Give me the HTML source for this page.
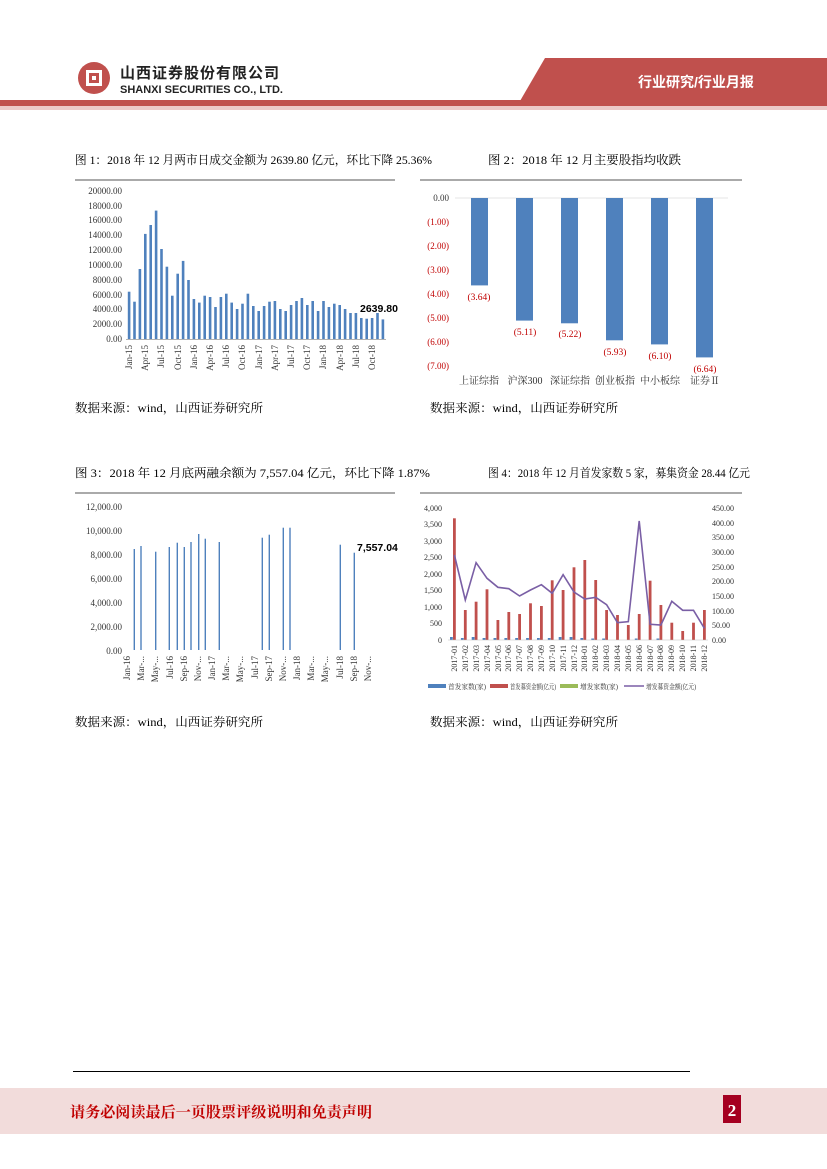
<!DOCTYPE html>
<html><head><meta charset="utf-8"><style>
body{margin:0;background:#fff}
svg{display:block}
text{font-family:"Liberation Serif","Noto Serif CJK SC","Noto Sans CJK SC",serif}
.s{font-family:"Liberation Sans","Noto Sans CJK SC",sans-serif}
</style></head><body>
<svg width="827" height="1169" viewBox="0 0 827 1169" xmlns="http://www.w3.org/2000/svg">
<!-- header -->
<polygon points="545,58 827,58 827,101 520,101" fill="#c0504d"/>
<rect x="0" y="100" width="827" height="6" fill="#c0504d"/>
<rect x="0" y="106" width="827" height="4" fill="#ecc9c8"/>
<text x="696" y="87" fill="#fff" font-size="14" font-weight="bold" text-anchor="middle" class="s">行业研究/行业月报</text>
<circle cx="94" cy="78" r="16" fill="#c0504d"/>
<rect x="86" y="70" width="16" height="16" fill="#fff"/>
<rect x="89" y="73" width="10" height="10" fill="#c0504d"/>
<rect x="92" y="76" width="4" height="4" fill="#fff"/>
<text x="120" y="78" font-size="15" font-weight="bold" fill="#222" class="s" letter-spacing="1">山西证券股份有限公司</text>
<text x="120" y="93" font-size="11" font-weight="bold" fill="#222" class="s">SHANXI SECURITIES CO., LTD.</text>

<!-- captions -->
<text x="75" y="164" font-size="12" textLength="357" lengthAdjust="spacingAndGlyphs">图 1：2018 年 12 月两市日成交金额为 2639.80 亿元，环比下降 25.36%</text>
<text x="488" y="164" font-size="12" textLength="193" lengthAdjust="spacingAndGlyphs">图 2：2018 年 12 月主要股指均收跌</text>

<!-- chart 1 -->
<line x1="75" y1="180" x2="395" y2="180" stroke="#555" stroke-width="1"/>
<g font-size="9" text-anchor="end" class="s" fill="#333">
<text x="122" y="194">20000.00</text><text x="122" y="209">18000.00</text><text x="122" y="223">16000.00</text><text x="122" y="238">14000.00</text><text x="122" y="253">12000.00</text><text x="122" y="268">10000.00</text><text x="122" y="283">8000.00</text><text x="122" y="298">6000.00</text><text x="122" y="312">4000.00</text><text x="122" y="327">2000.00</text><text x="122" y="342">0.00</text>
</g>
<line x1="126" y1="339.5" x2="386" y2="339.5" stroke="#999" stroke-width="0.7"/>
<g fill="#4f81bd">
<rect x="127.8" y="291.7" width="2.6" height="47.3"/><rect x="133.2" y="301.7" width="2.6" height="37.3"/><rect x="138.6" y="269" width="2.6" height="70"/><rect x="144" y="233.9" width="2.6" height="105.1"/><rect x="149.4" y="225" width="2.6" height="114"/><rect x="154.8" y="210.6" width="2.6" height="128.4"/><rect x="160.2" y="249" width="2.6" height="90"/><rect x="165.6" y="266.7" width="2.6" height="72.3"/><rect x="171" y="295.7" width="2.6" height="43.3"/><rect x="176.4" y="273.7" width="2.6" height="65.3"/><rect x="181.8" y="260.9" width="2.6" height="78.1"/><rect x="187.2" y="280" width="2.6" height="59"/>
<rect x="192.6" y="299" width="2.6" height="40"/><rect x="198" y="302.6" width="2.6" height="36.4"/><rect x="203.4" y="295.7" width="2.6" height="43.3"/><rect x="208.8" y="297" width="2.6" height="42"/><rect x="214.2" y="307" width="2.6" height="32"/><rect x="219.6" y="297" width="2.6" height="42"/><rect x="225" y="293.7" width="2.6" height="45.3"/><rect x="230.4" y="302.6" width="2.6" height="36.4"/><rect x="235.8" y="309" width="2.6" height="30"/><rect x="241.2" y="303.7" width="2.6" height="35.3"/><rect x="246.6" y="293.7" width="2.6" height="45.3"/><rect x="252" y="306" width="2.6" height="33"/>
<rect x="257.4" y="311" width="2.6" height="28"/><rect x="262.8" y="306" width="2.6" height="33"/><rect x="268.2" y="301.7" width="2.6" height="37.3"/><rect x="273.6" y="301" width="2.6" height="38"/><rect x="279" y="309" width="2.6" height="30"/><rect x="284.4" y="311" width="2.6" height="28"/><rect x="289.8" y="305" width="2.6" height="34"/><rect x="295.2" y="301" width="2.6" height="38"/><rect x="300.6" y="298" width="2.6" height="41"/><rect x="306" y="305" width="2.6" height="34"/><rect x="311.4" y="301" width="2.6" height="38"/><rect x="316.8" y="311" width="2.6" height="28"/>
<rect x="322.2" y="301" width="2.6" height="38"/><rect x="327.6" y="307" width="2.6" height="32"/><rect x="333" y="303.7" width="2.6" height="35.3"/><rect x="338.4" y="305" width="2.6" height="34"/><rect x="343.8" y="309" width="2.6" height="30"/><rect x="349.2" y="313" width="2.6" height="26"/><rect x="354.6" y="313" width="2.6" height="26"/><rect x="360" y="318" width="2.6" height="21"/><rect x="365.4" y="318.7" width="2.6" height="20.3"/><rect x="370.8" y="318" width="2.6" height="21"/><rect x="376.2" y="313" width="2.6" height="26"/><rect x="381.6" y="319.4" width="2.6" height="19.6"/>
</g>
<text x="360" y="312" font-size="10.5" font-weight="bold" class="s">2639.80</text>
<g font-size="9" class="s" fill="#333" text-anchor="end">
<text transform="translate(132,345) rotate(-90)">Jan-15</text><text transform="translate(148,345) rotate(-90)">Apr-15</text><text transform="translate(164,345) rotate(-90)">Jul-15</text><text transform="translate(181,345) rotate(-90)">Oct-15</text>
<text transform="translate(197,345) rotate(-90)">Jan-16</text><text transform="translate(213,345) rotate(-90)">Apr-16</text><text transform="translate(229,345) rotate(-90)">Jul-16</text><text transform="translate(245,345) rotate(-90)">Oct-16</text>
<text transform="translate(262,345) rotate(-90)">Jan-17</text><text transform="translate(278,345) rotate(-90)">Apr-17</text><text transform="translate(294,345) rotate(-90)">Jul-17</text><text transform="translate(310,345) rotate(-90)">Oct-17</text>
<text transform="translate(326,345) rotate(-90)">Jan-18</text><text transform="translate(343,345) rotate(-90)">Apr-18</text><text transform="translate(359,345) rotate(-90)">Jul-18</text><text transform="translate(375,345) rotate(-90)">Oct-18</text>
</g>

<!-- chart 2 -->
<line x1="420" y1="180" x2="742" y2="180" stroke="#555" stroke-width="1"/>
<line x1="455" y1="198" x2="728" y2="198" stroke="#ddd" stroke-width="0.8"/>
<g font-size="9" text-anchor="end">
<text x="449" y="201" fill="#333">0.00</text><text x="449" y="225" fill="#c00000">(1.00)</text><text x="449" y="249" fill="#c00000">(2.00)</text><text x="449" y="273" fill="#c00000">(3.00)</text><text x="449" y="297" fill="#c00000">(4.00)</text><text x="449" y="321" fill="#c00000">(5.00)</text><text x="449" y="345" fill="#c00000">(6.00)</text><text x="449" y="369" fill="#c00000">(7.00)</text>
</g>
<g fill="#4f81bd">
<rect x="471" y="198" width="17" height="87.4"/><rect x="516" y="198" width="17" height="122.6"/><rect x="561" y="198" width="17" height="125.3"/><rect x="606" y="198" width="17" height="142.3"/><rect x="651" y="198" width="17" height="146.4"/><rect x="696" y="198" width="17" height="159.4"/>
</g>
<g font-size="9.5" fill="#c00000" text-anchor="middle">
<text x="479" y="300">(3.64)</text><text x="525" y="335">(5.11)</text><text x="570" y="337">(5.22)</text><text x="615" y="355">(5.93)</text><text x="660" y="359">(6.10)</text><text x="705" y="372">(6.64)</text>
</g>
<g font-size="10" fill="#333" text-anchor="middle">
<text x="479" y="384">上证综指</text><text x="525" y="384">沪深300</text><text x="570" y="384">深证综指</text><text x="615" y="384">创业板指</text><text x="660" y="384">中小板综</text><text x="705" y="384">证券Ⅱ</text>
</g>

<text x="75" y="412" font-size="12" textLength="188" lengthAdjust="spacingAndGlyphs">数据来源：wind，山西证券研究所</text>
<text x="430" y="412" font-size="12" textLength="188" lengthAdjust="spacingAndGlyphs">数据来源：wind，山西证券研究所</text>

<!-- captions 3/4 -->
<text x="75" y="477" font-size="12" textLength="355" lengthAdjust="spacingAndGlyphs">图 3：2018 年 12 月底两融余额为 7,557.04 亿元，环比下降 1.87%</text>
<text x="488" y="477" font-size="12" textLength="262" lengthAdjust="spacingAndGlyphs">图 4：2018 年 12 月首发家数 5 家，募集资金 28.44 亿元</text>

<!-- chart 3 -->
<line x1="75" y1="493" x2="395" y2="493" stroke="#555" stroke-width="1"/>
<g font-size="9" text-anchor="end" class="s" fill="#333">
<text x="122" y="510">12,000.00</text><text x="122" y="534">10,000.00</text><text x="122" y="558">8,000.00</text><text x="122" y="582">6,000.00</text><text x="122" y="606">4,000.00</text><text x="122" y="630">2,000.00</text><text x="122" y="654">0.00</text>
</g>
<g stroke="#4f81bd" stroke-width="1.4">
<line x1="134.3" y1="549" x2="134.3" y2="650"/><line x1="141" y1="546" x2="141" y2="650"/><line x1="155.7" y1="551.7" x2="155.7" y2="650"/><line x1="169.3" y1="547" x2="169.3" y2="650"/><line x1="177.3" y1="542.7" x2="177.3" y2="650"/><line x1="184.3" y1="547" x2="184.3" y2="650"/><line x1="191" y1="542" x2="191" y2="650"/><line x1="198.7" y1="534" x2="198.7" y2="650"/><line x1="205.3" y1="538.7" x2="205.3" y2="650"/><line x1="219.3" y1="542" x2="219.3" y2="650"/><line x1="262.3" y1="537.7" x2="262.3" y2="650"/><line x1="269.3" y1="534.7" x2="269.3" y2="650"/><line x1="283.3" y1="527.7" x2="283.3" y2="650"/><line x1="290" y1="527.7" x2="290" y2="650"/><line x1="340.3" y1="544.7" x2="340.3" y2="650"/><line x1="354.3" y1="552.7" x2="354.3" y2="650"/>
</g>
<text x="357" y="551" font-size="10.5" font-weight="bold" class="s">7,557.04</text>
<g font-size="9" class="s" fill="#333" text-anchor="end">
<text transform="translate(130,656) rotate(-90)">Jan-16</text><text transform="translate(144,656) rotate(-90)">Mar-...</text><text transform="translate(158,656) rotate(-90)">May-...</text><text transform="translate(173,656) rotate(-90)">Jul-16</text><text transform="translate(187,656) rotate(-90)">Sep-16</text><text transform="translate(201,656) rotate(-90)">Nov-...</text><text transform="translate(215,656) rotate(-90)">Jan-17</text><text transform="translate(229,656) rotate(-90)">Mar-...</text><text transform="translate(243,656) rotate(-90)">May-...</text><text transform="translate(258,656) rotate(-90)">Jul-17</text><text transform="translate(272,656) rotate(-90)">Sep-17</text><text transform="translate(286,656) rotate(-90)">Nov-...</text><text transform="translate(300,656) rotate(-90)">Jan-18</text><text transform="translate(314,656) rotate(-90)">Mar-...</text><text transform="translate(328,656) rotate(-90)">May-...</text><text transform="translate(343,656) rotate(-90)">Jul-18</text><text transform="translate(357,656) rotate(-90)">Sep-18</text><text transform="translate(371,656) rotate(-90)">Nov-...</text>
</g>

<!-- chart 4 -->
<line x1="420" y1="493" x2="742" y2="493" stroke="#555" stroke-width="1"/>
<g font-size="8" text-anchor="end" class="s" fill="#333">
<text x="442" y="511">4,000</text><text x="442" y="527">3,500</text><text x="442" y="544">3,000</text><text x="442" y="560">2,500</text><text x="442" y="577">2,000</text><text x="442" y="593">1,500</text><text x="442" y="610">1,000</text><text x="442" y="626">500</text><text x="442" y="643">0</text>
</g>
<g font-size="8" class="s" fill="#333">
<text x="712" y="511">450.00</text><text x="712" y="526">400.00</text><text x="712" y="540">350.00</text><text x="712" y="555">300.00</text><text x="712" y="570">250.00</text><text x="712" y="584">200.00</text><text x="712" y="599">150.00</text><text x="712" y="614">100.00</text><text x="712" y="628">50.00</text><text x="712" y="643">0.00</text>
</g>
<g fill="#c0504d">
<rect x="453" y="518.3" width="2.8" height="121.7"/><rect x="463.9" y="610" width="2.8" height="30"/><rect x="474.7" y="601.7" width="2.8" height="38.3"/><rect x="485.6" y="589.3" width="2.8" height="50.7"/><rect x="496.5" y="620" width="2.8" height="20"/><rect x="507.4" y="612" width="2.8" height="28"/><rect x="518.2" y="614" width="2.8" height="26"/><rect x="529.1" y="603.3" width="2.8" height="36.7"/><rect x="540" y="606" width="2.8" height="34"/><rect x="550.8" y="580.3" width="2.8" height="59.7"/><rect x="561.7" y="590" width="2.8" height="50"/><rect x="572.6" y="567.3" width="2.8" height="72.7"/><rect x="583.4" y="560" width="2.8" height="80"/><rect x="594.3" y="580" width="2.8" height="60"/><rect x="605.2" y="610" width="2.8" height="30"/><rect x="616.1" y="615" width="2.8" height="25"/><rect x="626.9" y="625" width="2.8" height="15"/><rect x="637.8" y="614" width="2.8" height="26"/><rect x="648.7" y="580.7" width="2.8" height="59.3"/><rect x="659.5" y="605" width="2.8" height="35"/><rect x="670.4" y="622.7" width="2.8" height="17.3"/><rect x="681.3" y="631" width="2.8" height="9"/><rect x="692.1" y="622.7" width="2.8" height="17.3"/><rect x="703" y="610" width="2.8" height="30"/>
</g>
<g fill="#4f81bd">
<rect x="450" y="637" width="2.8" height="3"/><rect x="460.9" y="638" width="2.8" height="2"/><rect x="471.7" y="637" width="2.8" height="3"/><rect x="482.6" y="638" width="2.8" height="2"/><rect x="493.5" y="638" width="2.8" height="2"/><rect x="504.4" y="638" width="2.8" height="2"/><rect x="515.2" y="638" width="2.8" height="2"/><rect x="526.1" y="638" width="2.8" height="2"/><rect x="537" y="638" width="2.8" height="2"/><rect x="547.8" y="638" width="2.8" height="2"/><rect x="558.7" y="637" width="2.8" height="3"/><rect x="569.6" y="637" width="2.8" height="3"/><rect x="580.4" y="638" width="2.8" height="2"/><rect x="591.3" y="638.5" width="2.8" height="1.5"/><rect x="602.2" y="638.5" width="2.8" height="1.5"/><rect x="634.8" y="638.5" width="2.8" height="1.5"/><rect x="656.5" y="638.5" width="2.8" height="1.5"/>
</g>
<polyline fill="none" stroke="#7a5fa5" stroke-width="1.6" points="454.4,555 465.3,600 476.1,562.7 487,578.3 497.9,587.3 508.8,588.7 519.6,596 530.5,590 541.4,584.7 552.2,593.3 563.1,574.7 574,592 584.8,599 595.7,597.3 606.6,604.7 617.5,622.7 628.3,621.7 639.2,521 650.1,624.3 660.9,625 671.8,601.3 682.7,610.3 693.5,610.3 704.4,628.3"/>
<line x1="448" y1="640" x2="708" y2="640" stroke="#bbb" stroke-width="0.6"/>
<g font-size="8" class="s" fill="#333" text-anchor="end">
<text transform="translate(457,645) rotate(-90)">2017-01</text><text transform="translate(468,645) rotate(-90)">2017-02</text><text transform="translate(479,645) rotate(-90)">2017-03</text><text transform="translate(490,645) rotate(-90)">2017-04</text><text transform="translate(501,645) rotate(-90)">2017-05</text><text transform="translate(511,645) rotate(-90)">2017-06</text><text transform="translate(522,645) rotate(-90)">2017-07</text><text transform="translate(533,645) rotate(-90)">2017-08</text><text transform="translate(544,645) rotate(-90)">2017-09</text><text transform="translate(555,645) rotate(-90)">2017-10</text><text transform="translate(566,645) rotate(-90)">2017-11</text><text transform="translate(577,645) rotate(-90)">2017-12</text><text transform="translate(587,645) rotate(-90)">2018-01</text><text transform="translate(598,645) rotate(-90)">2018-02</text><text transform="translate(609,645) rotate(-90)">2018-03</text><text transform="translate(620,645) rotate(-90)">2018-04</text><text transform="translate(631,645) rotate(-90)">2018-05</text><text transform="translate(642,645) rotate(-90)">2018-06</text><text transform="translate(653,645) rotate(-90)">2018-07</text><text transform="translate(663,645) rotate(-90)">2018-08</text><text transform="translate(674,645) rotate(-90)">2018-09</text><text transform="translate(685,645) rotate(-90)">2018-10</text><text transform="translate(696,645) rotate(-90)">2018-11</text><text transform="translate(707,645) rotate(-90)">2018-12</text>
</g>
<g font-size="7" class="s" fill="#333">
<rect x="428" y="684" width="18" height="4" fill="#4f81bd"/><text x="448" y="689" textLength="38" lengthAdjust="spacingAndGlyphs">首发家数(家)</text>
<rect x="490" y="684" width="18" height="4" fill="#c0504d"/><text x="510" y="689" textLength="46" lengthAdjust="spacingAndGlyphs">首发募资金额(亿元)</text>
<rect x="560" y="684" width="18" height="4" fill="#9bbb59"/><text x="580" y="689" textLength="38" lengthAdjust="spacingAndGlyphs">增发家数(家)</text>
<line x1="624" y1="686" x2="644" y2="686" stroke="#7a5fa5" stroke-width="1.6"/><text x="646" y="689" textLength="50" lengthAdjust="spacingAndGlyphs">增发募资金额(亿元)</text>
</g>

<text x="75" y="726" font-size="12" textLength="188" lengthAdjust="spacingAndGlyphs">数据来源：wind，山西证券研究所</text>
<text x="430" y="726" font-size="12" textLength="188" lengthAdjust="spacingAndGlyphs">数据来源：wind，山西证券研究所</text>

<!-- footer -->
<line x1="73" y1="1071.5" x2="690" y2="1071.5" stroke="#000" stroke-width="1"/>
<rect x="0" y="1088" width="827" height="46" fill="#f2dcdb"/>
<text x="70" y="1117" font-size="15" font-weight="bold" fill="#c00000" font-family="'Noto Serif CJK SC',serif" textLength="302" lengthAdjust="spacingAndGlyphs">请务必阅读最后一页股票评级说明和免责声明</text>
<rect x="723" y="1095" width="18" height="28" fill="#a50021"/>
<text x="732" y="1116" font-size="17" font-weight="bold" fill="#fff" text-anchor="middle">2</text>
</svg>
</body></html>
